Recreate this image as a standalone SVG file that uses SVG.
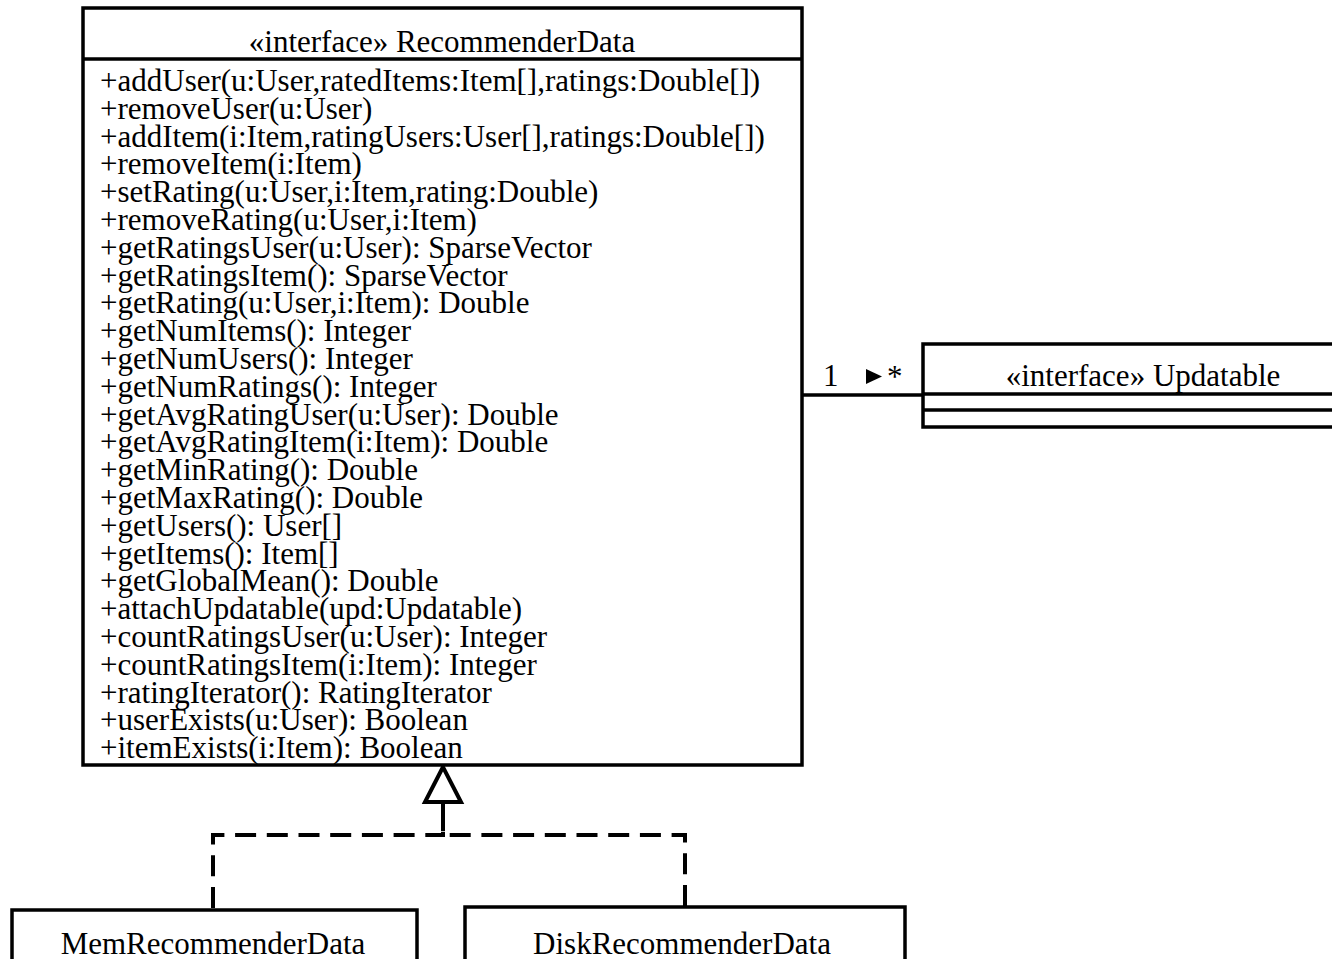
<svg xmlns="http://www.w3.org/2000/svg" width="1332" height="959" viewBox="0 0 1332 959">
  <style>
    text { font-family: "Liberation Serif", "Times New Roman", serif; font-size: 31px; fill: #000; }
    .mid { text-anchor: middle; }
    .box { fill: #fff; stroke: #000; stroke-width: 3.5; }
    .rule { stroke: #000; stroke-width: 3.5; fill: none; }
    .assoc { stroke: #000; stroke-width: 3.5; fill: none; }
    .realize { stroke: #000; stroke-width: 4; fill: none; stroke-dasharray: 21 10.7; }
    .head { fill: #fff; stroke: #000; stroke-width: 4; stroke-linejoin: miter; }
  </style>

  <!-- connectors -->
  <g id="connectors">
    <!-- association RecommenderData 1 -> * Updatable -->
    <line class="assoc" x1="803" y1="395" x2="923" y2="395"/>
    <polygon points="866,369 882,376.5 866,384" fill="#000"/>
    <text x="823" y="386">1</text>
    <text x="887" y="387">*</text>
    <!-- realization: implementations -> interface -->
    <path class="realize" d="M213,908 V835 H443 V802"/>
    <path class="realize" d="M685,906 V835 H443 V802"/>
    <polygon class="head" points="443,767 425,802 461,802"/>
  </g>

  <!-- interface RecommenderData -->
  <g id="RecommenderData">
    <rect class="box" x="83" y="8" width="719" height="757"/>
    <line class="rule" x1="83" y1="59" x2="802" y2="59"/>
    <text class="mid" x="442" y="52">«interface» RecommenderData</text>
    <text x="100" y="91">+addUser(u:User,ratedItems:Item[],ratings:Double[])</text>
    <text x="100" y="118.8">+removeUser(u:User)</text>
    <text x="100" y="146.6">+addItem(i:Item,ratingUsers:User[],ratings:Double[])</text>
    <text x="100" y="174.4">+removeItem(i:Item)</text>
    <text x="100" y="202.2">+setRating(u:User,i:Item,rating:Double)</text>
    <text x="100" y="230">+removeRating(u:User,i:Item)</text>
    <text x="100" y="257.8">+getRatingsUser(u:User): SparseVector</text>
    <text x="100" y="285.6">+getRatingsItem(): SparseVector</text>
    <text x="100" y="313.4">+getRating(u:User,i:Item): Double</text>
    <text x="100" y="341.2">+getNumItems(): Integer</text>
    <text x="100" y="369">+getNumUsers(): Integer</text>
    <text x="100" y="396.8">+getNumRatings(): Integer</text>
    <text x="100" y="424.6">+getAvgRatingUser(u:User): Double</text>
    <text x="100" y="452.4">+getAvgRatingItem(i:Item): Double</text>
    <text x="100" y="480.2">+getMinRating(): Double</text>
    <text x="100" y="508">+getMaxRating(): Double</text>
    <text x="100" y="535.8">+getUsers(): User[]</text>
    <text x="100" y="563.6">+getItems(): Item[]</text>
    <text x="100" y="591.4">+getGlobalMean(): Double</text>
    <text x="100" y="619.2">+attachUpdatable(upd:Updatable)</text>
    <text x="100" y="647">+countRatingsUser(u:User): Integer</text>
    <text x="100" y="674.8">+countRatingsItem(i:Item): Integer</text>
    <text x="100" y="702.6">+ratingIterator(): RatingIterator</text>
    <text x="100" y="730.4">+userExists(u:User): Boolean</text>
    <text x="100" y="758.2">+itemExists(i:Item): Boolean</text>
  </g>

  <!-- interface Updatable -->
  <g id="Updatable">
    <rect class="box" x="923" y="344" width="450" height="83"/>
    <line class="rule" x1="923" y1="394" x2="1373" y2="394"/>
    <line class="rule" x1="923" y1="410" x2="1373" y2="410"/>
    <text class="mid" x="1143" y="386">«interface» Updatable</text>
  </g>

  <!-- class MemRecommenderData -->
  <g id="MemRecommenderData">
    <rect class="box" x="12" y="910" width="405" height="80"/>
    <text class="mid" x="213" y="954">MemRecommenderData</text>
  </g>

  <!-- class DiskRecommenderData -->
  <g id="DiskRecommenderData">
    <rect class="box" x="465" y="907" width="440" height="80"/>
    <text class="mid" x="682" y="954">DiskRecommenderData</text>
  </g>
</svg>
